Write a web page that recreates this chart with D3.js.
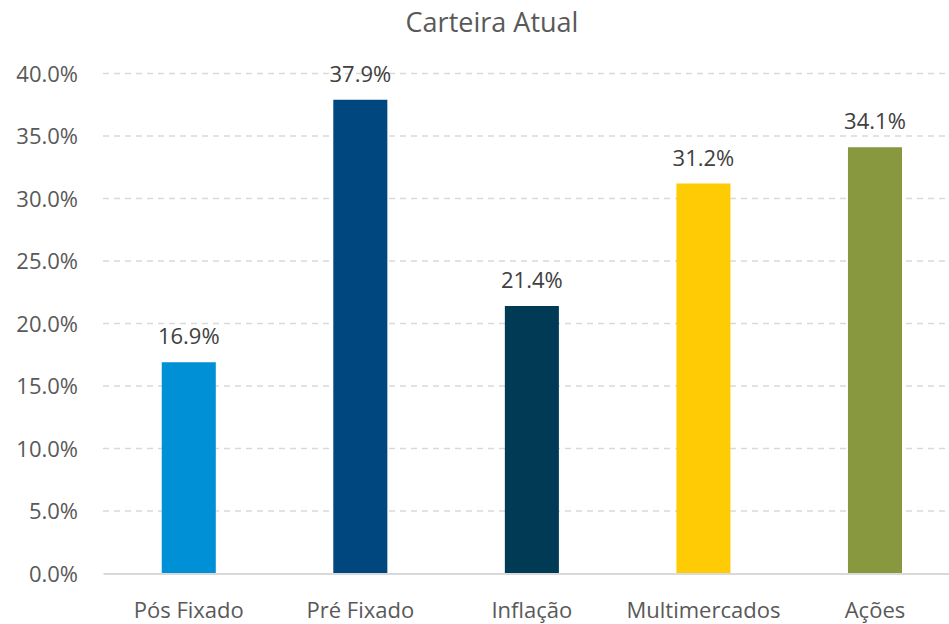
<!DOCTYPE html>
<html><head><meta charset="utf-8">
<script src="https://cdn.jsdelivr.net/npm/d3@7"></script>
<style>body{margin:0;background:#fff;} svg{display:block;font-family:"Open Sans",sans-serif;}</style>
</head><body>
<svg id="c" width="949" height="624"></svg>
<script>
const categories = ["Pós Fixado","Pré Fixado","Inflação","Multimercados","Ações"];
const values = [16.9, 37.9, 21.4, 31.2, 34.1];
const colors = ["#0090D6","#00467F","#003A55","#FFCB05","#87983F"];
const yTicks = [0,5,10,15,20,25,30,35,40];
const title = "Carteira Atual";

const svg = d3.select("#c");
const x = d3.scaleBand().domain(categories).range([103, 960.75]).paddingInner(0.685).paddingOuter(0.3425);
const y = d3.scaleLinear().domain([0,40]).range([573.5, 73.5]);

svg.append("text").attr("x", 492).attr("y", 32).attr("text-anchor","middle")
  .attr("font-size", 27).attr("fill","#595959").text(title);

const yAxis = d3.axisLeft(y).tickValues(yTicks).tickFormat(d => d.toFixed(1)+"%").tickSize(0).tickPadding(0);
const gy = svg.append("g").attr("transform","translate(78,0)").call(yAxis);
gy.select(".domain").remove();
gy.selectAll("text").attr("font-size",22).attr("fill","#595959").attr("font-family","Open Sans, sans-serif").attr("dy","0.35em");

svg.append("g").selectAll("line").data(yTicks.filter(d=>d>0)).join("line")
  .attr("x1",103).attr("x2",961).attr("y1",d=>y(d)).attr("y2",d=>y(d))
  .attr("stroke","#D9D9D9").attr("stroke-width",1.5).attr("stroke-dasharray","6,5");

svg.append("g").selectAll("rect").data(values).join("rect")
  .attr("x",(d,i)=>x(categories[i])).attr("width",x.bandwidth())
  .attr("y",d=>y(d)).attr("height",d=>y(0)-y(d)).attr("fill",(d,i)=>colors[i]);

const xAxis = d3.axisBottom(x).tickSize(0).tickPadding(0);
const gx = svg.append("g").attr("transform","translate(0,573.5)").call(xAxis);
gx.select(".domain").attr("stroke","#D9D9D9").attr("stroke-width",2);
gx.selectAll("text").attr("font-size",22).attr("fill","#595959").attr("font-family","Open Sans, sans-serif").attr("y",44).attr("dy",0);

svg.append("g").selectAll("text").data(values).join("text")
  .attr("x",(d,i)=>x(categories[i])+x.bandwidth()/2).attr("y",d=>y(d)-18)
  .attr("text-anchor","middle").attr("font-size",22).attr("fill","#404040")
  .text(d=>d.toFixed(1)+"%");
</script>
</body></html>
